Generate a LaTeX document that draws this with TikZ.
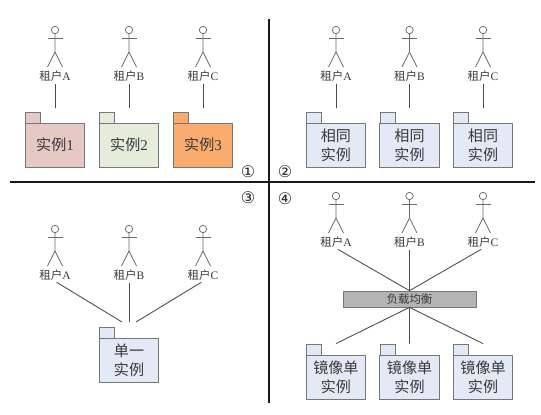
\documentclass[tikz,border=0pt]{standalone}
\usepackage{fontspec}
\setmainfont{Liberation Serif}
\newfontfamily\cjk{Noto Sans CJK SC}[Scale=1]
\newfontfamily\sym{DejaVu Sans}
\newfontfamily\latn{Liberation Serif}
\definecolor{edgeg}{HTML}{777777}
\definecolor{stick}{HTML}{6A6A6A}
\definecolor{blueb}{HTML}{E3E9F5}
\definecolor{redb}{HTML}{E6C8C5}
\definecolor{greenb}{HTML}{E6ECDC}
\definecolor{orangeb}{HTML}{F9AC6E}
\definecolor{lbg}{HTML}{B4B4B4}
\definecolor{txt}{HTML}{3A3A3A}
\newcommand\actorfig[4]{% name, cx, head y, label
  \draw[stickline] (#2,#3) circle[radius=3.7];
  \draw[stickline] (#2-7.5,#3+8) -- (#2+7.5,#3+8);
  \draw[stickline] (#2,#3+3.7) -- (#2,#3+22) -- (#2-7.5,#3+37);
  \draw[stickline] (#2,#3+22) -- (#2+7.5,#3+37);
  \node[actorlabel] (#1) at (#2,#3+46) {租户{\latn #4}};
}
\newcommand\pkgfig[5]{% name, left x, tab top y, fill, text
  \node[pkgtab,fill=#4] (#1t) at (#2+7.75,#3+5.5) {};
  \node[pkgbody,fill=#4] (#1) at (#2+29.75,#3+33) {#5};
}
\begin{document}
\begin{tikzpicture}[x=0.75pt,y=-0.75pt,
  stickline/.style={draw=stick,line width=0.55pt},
  actorlabel/.style={font=\cjk\fontsize{8.6}{10}\selectfont,text=txt,inner sep=0pt,minimum height=9pt,text height=7.5pt,text depth=1.2pt},
  pkgtab/.style={draw=edgeg,line width=0.6pt,minimum width=11.2pt,minimum height=8.2pt,inner sep=0pt},
  pkgbody/.style={draw=edgeg,line width=0.6pt,minimum width=44.6pt,minimum height=33pt,inner sep=0pt,align=center,
     font=\cjk\fontsize{11.3}{14}\selectfont,text=txt},
  conn/.style={draw=black!70,line width=0.65pt},
  drop/.style={conn,shorten <=1.5pt,shorten >=11pt},
  axis/.style={draw=black!90,line width=1.1pt},
  circnum/.style={font=\sym\fontsize{12}{14}\selectfont,text=black!85,inner sep=0pt},
  lbbox/.style={draw=edgeg,fill=lbg,line width=0.5pt,minimum width=99.8pt,minimum height=12pt,inner sep=0pt,
     font=\cjk\fontsize{8.6}{10}\selectfont,text=txt}]
\useasboundingbox (0,0) rectangle (541,414);
\fill[white] (0,0) rectangle (541,414);
% axes
\coordinate (hl) at (10,182); \coordinate (hr) at (535,182);
\coordinate (vt) at (269,19); \coordinate (vb) at (269,403);
\draw[axis] (hl) -- (hr);
\draw[axis] (vt) -- (vb);
\node[circnum] (n1) at (248,172) {①};
\node[circnum] (n2) at (285,172) {②};
\node[circnum] (n3) at (248,198) {③};
\node[circnum] (n4) at (285,199) {④};
% Q1
\actorfig{a1}{55}{30}{A}
\actorfig{b1}{129}{30}{B}
\actorfig{c1}{203}{30}{C}
\pkgfig{p1}{25.3}{112}{redb}{实例{\latn 1}}
\pkgfig{p2}{99.3}{112}{greenb}{实例{\latn 2}}
\pkgfig{p3}{173.3}{112}{orangeb}{实例{\latn 3}}
\draw[drop] (a1.south) -- (a1.south |- p1.north);
\draw[drop] (b1.south) -- (b1.south |- p2.north);
\draw[drop] (c1.south) -- (c1.south |- p3.north);
% Q2
\actorfig{a2}{336}{30}{A}
\actorfig{b2}{409.5}{30}{B}
\actorfig{c2}{483}{30}{C}
\pkgfig{p4}{306.2}{112}{blueb}{相同\\实例}
\pkgfig{p5}{379.8}{112}{blueb}{相同\\实例}
\pkgfig{p6}{453.3}{112}{blueb}{相同\\实例}
\draw[drop] (a2.south) -- (a2.south |- p4.north);
\draw[drop] (b2.south) -- (b2.south |- p5.north);
\draw[drop] (c2.south) -- (c2.south |- p6.north);
% Q3
\actorfig{a3}{55}{229}{A}
\actorfig{b3}{129}{229}{B}
\actorfig{c3}{203}{229}{C}
\pkgfig{p7}{99.3}{327}{blueb}{单一\\实例}
\coordinate (q3a) at (122,322); \coordinate (q3b) at (129,322); \coordinate (q3c) at (136,322);
\draw[conn,shorten <=1.5pt] (a3.south) -- (q3a);
\draw[conn,shorten <=1.5pt] (b3.south) -- (q3b);
\draw[conn,shorten <=1.5pt] (c3.south) -- (q3c);
% Q4
\actorfig{a4}{336}{196}{A}
\actorfig{b4}{409.5}{196}{B}
\actorfig{c4}{483}{196}{C}
\node[lbbox] (lb) at (409.5,299) {负载均衡};
\pkgfig{p8}{306.2}{344}{blueb}{镜像单\\实例}
\pkgfig{p9}{379.8}{344}{blueb}{镜像单\\实例}
\pkgfig{p10}{453.3}{344}{blueb}{镜像单\\实例}
\draw[conn,shorten <=1.5pt] (a4.south) -- (lb.north);
\draw[conn,shorten <=1.5pt] (b4.south) -- (lb.north);
\draw[conn,shorten <=1.5pt] (c4.south) -- (lb.north);
\draw[conn] (lb.south) -- (p8.north |- p8t.north);
\draw[conn] (lb.south) -- (p9.north |- p9t.north);
\draw[conn] (lb.south) -- (p10.north |- p10t.north);
\end{tikzpicture}
\end{document}
